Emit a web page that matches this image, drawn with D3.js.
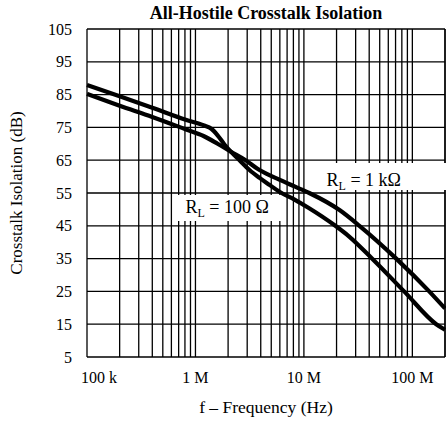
<!DOCTYPE html>
<html>
<head>
<meta charset="utf-8">
<script src="https://cdn.jsdelivr.net/npm/d3@7"></script>
<style>
  html, body { margin: 0; padding: 0; background: #fff; }
  svg { display: block; }
  text { font-family: "Liberation Serif", "Times New Roman", serif; fill: #000; }
</style>
</head>
<body>
<svg id="chart" width="446" height="422"></svg>
<script>
// ---- Data ----
const title = "All-Hostile Crosstalk Isolation";
const xTitle = "f \u2013 Frequency (Hz)";
const yTitle = "Crosstalk Isolation (dB)";

const xTickValues = [1e5, 1e6, 1e7, 1e8];
const xTickLabels = ["100 k", "1 M", "10 M", "100 M"];
const yTickValues = [5, 15, 25, 35, 45, 55, 65, 75, 85, 95, 105];

// R_L = 100 Ω
const freq100 = [1e5, 2e5, 4e5, 8e5, 1.2e6, 1.4e6, 1.6e6, 1.85e6, 2.15e6, 2.55e6, 3.15e6, 3.9e6, 4.8e6, 6.0e6, 8.2e6, 1.1e7, 1.95e7, 2.6e7, 4.2e7, 8.4e7, 1.66e8, 2e8];
const db100   = [87.9, 84.5, 81.0, 77.4, 75.6, 74.6, 72.6, 69.8, 67.4, 65.0, 62.0, 59.6, 57.5, 55.3, 53.0, 50.5, 45.0, 41.8, 35.2, 25.0, 15.0, 13.3];

// R_L = 1 kΩ
const freq1k = [1e5, 2e5, 4e5, 8e5, 1.2e6, 1.6e6, 2.15e6, 2.9e6, 3.7e6, 6.0e6, 8.2e6, 1.12e7, 2.13e7, 3.25e7, 7.1e7, 1.43e8, 2e8];
const db1k   = [85.2, 81.6, 78.2, 74.5, 72.3, 70.0, 67.5, 65.0, 62.5, 59.0, 57.0, 55.0, 49.8, 45.0, 35.0, 25.0, 19.8];

const labels = [
  { main: "R", sub: "L", rest: " = 100 \u03A9", freq: 1.0e6, db: 48.9 },
  { main: "R", sub: "L", rest: " = 1 k\u03A9", freq: 2.0e7, db: 57.1 }
];

// ---- Scales ----
const svg = d3.select("#chart");
const x = d3.scaleLog().domain([1e5, 2e8]).range([87, 445]);
const y = d3.scaleLinear().domain([5, 105]).range([357, 29]);

// ---- Grid ----
const minorX = [];
for (let dec = 1e5; dec <= 1e8; dec *= 10) {
  for (let m = 1; m <= 9; m++) {
    const v = dec * m;
    if (v <= 2e8) minorX.push(v);
  }
}
minorX.push(2e8);

const grid = svg.append("g").attr("stroke", "#000").attr("stroke-width", 1.3);
grid.selectAll("line.v").data(minorX).join("line")
  .attr("x1", d => x(d)).attr("x2", d => x(d))
  .attr("y1", y(105)).attr("y2", y(5));
grid.selectAll("line.h").data(yTickValues).join("line")
  .attr("x1", x(1e5)).attr("x2", x(2e8))
  .attr("y1", d => y(d)).attr("y2", d => y(d));

// ---- Label boxes (white, hide grid) ----
svg.append("rect").attr("x", 174).attr("y", 195).attr("width", 111).attr("height", 26).attr("fill", "#fff");
svg.append("rect").attr("x", 306).attr("y", 163).attr("width", 140).attr("height", 27).attr("fill", "#fff");

// ---- Curves ----
const line = d3.line()
  .x(d => x(d[0])).y(d => y(d[1]))
  .curve(d3.curveMonotoneX);

const curves = [
  d3.zip(freq100, db100),
  d3.zip(freq1k, db1k)
];
svg.append("g").selectAll("path").data(curves).join("path")
  .attr("d", line)
  .attr("fill", "none")
  .attr("stroke", "#000")
  .attr("stroke-width", 4.2)
  .attr("stroke-linejoin", "round");

// ---- Curve labels ----
labels.forEach(l => {
  const t = svg.append("text")
    .attr("x", x(l.freq) - 10).attr("y", y(l.db))
    .attr("font-size", 18);
  t.append("tspan").text(l.main);
  t.append("tspan").attr("font-size", 12).attr("dy", 4).text(l.sub);
  t.append("tspan").attr("dy", -4).text(l.rest);
});

// ---- Tick labels ----
svg.append("g").selectAll("text").data(yTickValues).join("text")
  .attr("x", 72).attr("y", d => y(d)).attr("dy", "0.35em")
  .attr("text-anchor", "end").attr("font-size", 16)
  .text(d => d);

svg.append("g").selectAll("text").data(xTickValues).join("text")
  .attr("x", (d, i) => x(d) + (i === 0 ? 12 : 0))
  .attr("y", 383)
  .attr("text-anchor", "middle").attr("font-size", 16)
  .text((d, i) => xTickLabels[i]);

// ---- Titles ----
svg.append("text").attr("x", 266).attr("y", 19)
  .attr("text-anchor", "middle").attr("font-size", 18).attr("font-weight", "bold")
  .text(title);

svg.append("text").attr("x", 266).attr("y", 413)
  .attr("text-anchor", "middle").attr("font-size", 17.5)
  .text(xTitle);

svg.append("text")
  .attr("transform", "translate(22,193) rotate(-90)")
  .attr("text-anchor", "middle").attr("font-size", 17)
  .text(yTitle);
</script>
</body>
</html>
